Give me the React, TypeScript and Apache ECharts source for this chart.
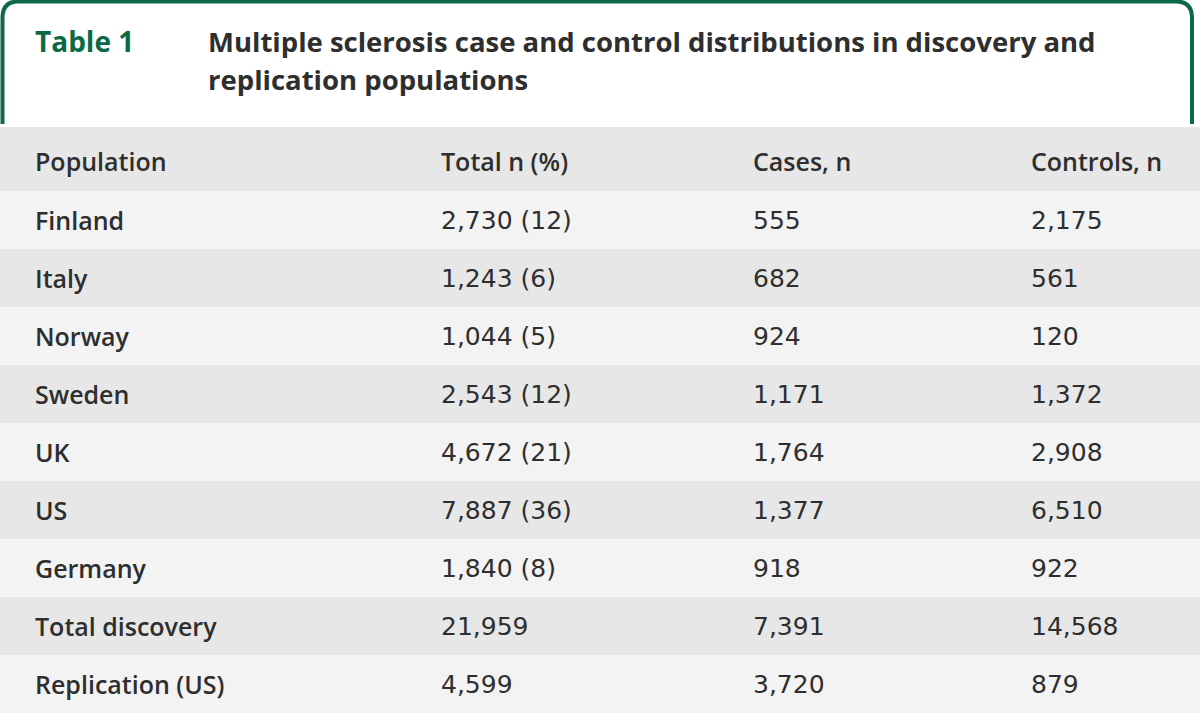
import React, { useEffect, useRef } from "react";
import * as echarts from "echarts";

const tableLabel = "Table 1";
const titleLines = [
  "Multiple sclerosis case and control distributions in discovery and",
  "replication populations",
];
const headers = ["Population", "Total n (%)", "Cases, n", "Controls, n"];
const populations = [
  "Finland",
  "Italy",
  "Norway",
  "Sweden",
  "UK",
  "US",
  "Germany",
  "Total discovery",
  "Replication (US)",
];
const totals = [2730, 1243, 1044, 2543, 4672, 7887, 1840, 21959, 4599];
const percents: (number | null)[] = [12, 6, 5, 12, 21, 36, 8, null, null];
const cases = [555, 682, 924, 1171, 1764, 1377, 918, 7391, 3720];
const controls = [2175, 561, 120, 1372, 2908, 6510, 922, 14568, 879];

const GREEN = "#0b6a45";
const TEXT = "#2e2e2e";
const FONT = "'Open Sans', sans-serif";
const NUM_FONT = "'DejaVu Sans', sans-serif";
const COL_X = [35, 441, 753, 1031];

const fmt = (n: number) => n.toLocaleString("en-US");

echarts.graphic.registerShape(
  "frame",
  echarts.graphic.extendPath(
    "M 2.5 124 L 2.5 18 Q 2.5 1.5 18 1.5 L 1176 1.5 Q 1192 1.5 1192 18 L 1192 124",
    {}
  )
);

export default function App() {
  const ref = useRef<HTMLDivElement>(null);
  useEffect(() => {
    document.body.style.margin = "0";
    if (!ref.current) return;
    const chart = echarts.init(ref.current, null, { renderer: "svg" });

    const rowKeys = ["__header", ...populations];
    const rows: string[][] = [
      headers,
      ...populations.map((p, i) => [
        p,
        percents[i] != null ? `${fmt(totals[i])} (${percents[i]})` : fmt(totals[i]),
        fmt(cases[i]),
        fmt(controls[i]),
      ]),
    ];

    chart.setOption({
      animation: false,
      grid: { left: 0, right: 0, top: 133, bottom: 1 },
      xAxis: { type: "value", min: 0, max: 1200, show: false },
      yAxis: {
        type: "category",
        data: rowKeys,
        inverse: true,
        show: false,
      },
      graphic: [
        {
          type: "frame",
          x: 0,
          y: 0,
          style: { fill: "none", stroke: GREEN, lineWidth: 4 },
          silent: true,
        },
        {
          type: "text",
          x: 35,
          y: 41,
          style: {
            text: tableLabel,
            fill: GREEN,
            font: `bold 28px ${FONT}`,
            verticalAlign: "middle",
          },
        },
        ...titleLines.map((t, i) => ({
          type: "text",
          x: 208,
          y: 41 + i * 38,
          style: {
            text: t,
            fill: TEXT,
            font: `bold 27.5px ${FONT}`,
            verticalAlign: "middle",
          },
        })),
      ],
      series: [
        {
          type: "custom",
          data: rowKeys.map((_, i) => [0, i]),
          encode: { x: 0, y: 1 },
          renderItem: (params: any, api: any) => {
            const i = params.dataIndex;
            const c = api.coord([0, i]);
            const h = api.size([0, 1])[1];
            const extra = i === 0 ? 6 : 0;
            const top = c[1] - h / 2 - extra;
            const width = params.coordSys.width;
            const children: any[] = [
              {
                type: "rect",
                shape: { x: params.coordSys.x, y: top, width, height: h + extra },
                style: { fill: i % 2 === 0 ? "#e7e7e7" : "#f2f3f2" },
              },
            ];
            rows[i].forEach((txt, j) => {
              const x = api.coord([COL_X[j], i])[0];
              const bold = i === 0 || j === 0;
              children.push({
                type: "text",
                x,
                y: c[1] - (i === 0 ? 1 : 0),
                style: {
                  text: txt,
                  fill: TEXT,
                  font: bold ? `600 25px ${FONT}` : `400 25px ${NUM_FONT}`,
                  verticalAlign: "middle",
                  align: "left",
                },
              });
            });
            return { type: "group", children };
          },
        },
      ],
    });
    return () => chart.dispose();
  }, []);
  return <div ref={ref} style={{ width: 1200, height: 714, background: "#fff" }} />;
}
